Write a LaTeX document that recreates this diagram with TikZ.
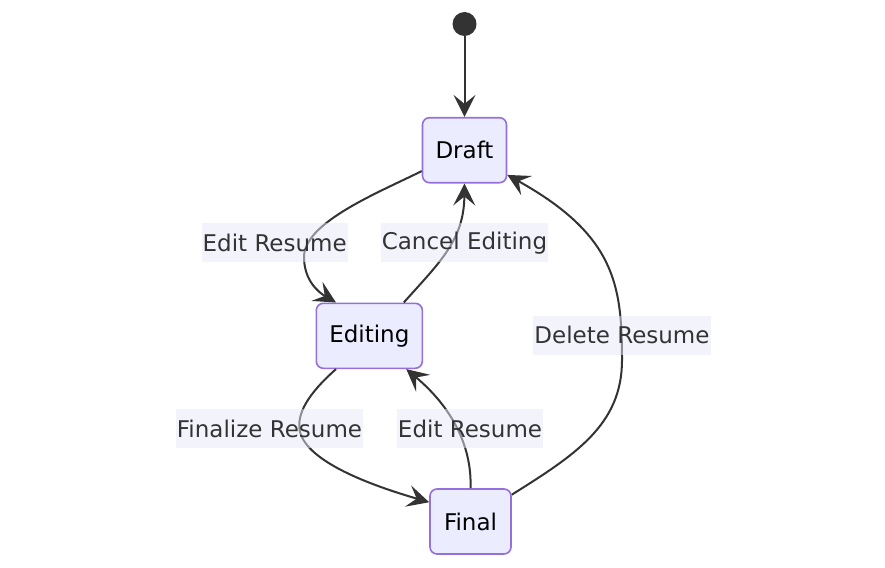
\documentclass[tikz,border=0pt]{standalone}
\usepackage{fontspec}
\setmainfont{DejaVu Sans}
\usetikzlibrary{arrows.meta}

\definecolor{stateFill}{RGB}{236,236,255}
\definecolor{stateLine}{RGB}{147,112,219}
\definecolor{edgeLine}{RGB}{51,51,51}
\definecolor{labelFill}{RGB}{232,232,250}

\tikzset{
    state/.style={draw=stateLine, fill=stateFill, line width=1.6pt, rounded corners=7pt,
        minimum height=65pt, text=black, font=\fontsize{23}{27}\selectfont},
    trans/.style={draw=edgeLine, line width=2pt,
        -{Stealth[length=22pt,width=22pt,inset=9pt]}},
    edgelabel/.style={fill=labelFill, fill opacity=0.5, text opacity=1, text=edgeLine,
        inner xsep=1pt, minimum height=39pt, font=\fontsize{23}{27}\selectfont}
}

\begin{document}
\begin{tikzpicture}[x=1pt, y=-1pt]
    \useasboundingbox (0,0) rectangle (885,567);

    % Start point and the three states
    \node[circle, fill=edgeLine, minimum size=24pt, inner sep=0pt] (start) at (464.5,24) {};
    \node[state, minimum width=84pt] (draft) at (464.5,150.2) {Draft};
    \node[state, minimum width=106pt] (editing) at (369.3,335.8) {Editing};
    \node[state, minimum width=81pt] (final) at (470.5,521.5) {Final};

    % Transitions
    \draw[trans] (start) -- (draft);
    \draw[trans] (draft.206) .. controls (380,192) and (304,222) .. (304,257)
        .. controls (304,280) and (318,292) .. (editing.135);
    \draw[trans] (editing.44) .. controls (440,262) and (464,240) .. (draft.south);
    \draw[trans] (editing.225) .. controls (308,394) and (296,414) .. (300,432)
        .. controls (308,462) and (370,485) .. (final.155);
    \draw[trans] (final.north) .. controls (472,450) and (455,410) .. (editing.-42);
    \draw[trans] (final.33) .. controls (575,455) and (622,425) .. (622,360)
        .. controls (622,285) and (615,235) .. (draft.-30);

    % Transition labels
    \node[edgelabel] (lblEdit) at (274.7,242.8) {Edit Resume};
    \node[edgelabel] (lblCancel) at (464.5,242.8) {Cancel Editing};
    \node[edgelabel] (lblDelete) at (622,335) {Delete Resume};
    \node[edgelabel] (lblFinalize) at (269.5,428.5) {Finalize Resume};
    \node[edgelabel] (lblReedit) at (470,428.5) {Edit Resume};
\end{tikzpicture}
\end{document}
